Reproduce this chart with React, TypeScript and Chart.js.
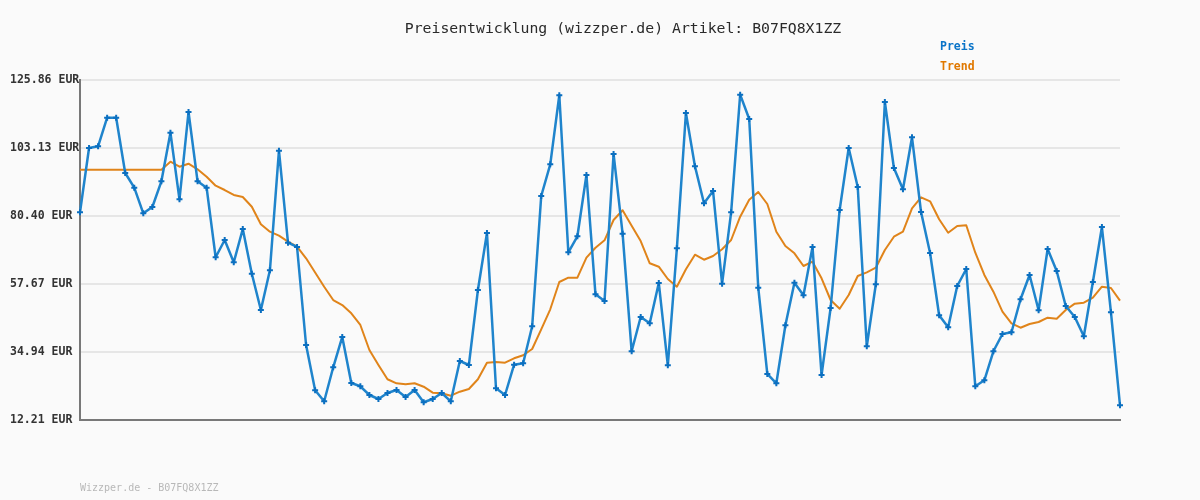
import React, { useEffect, useRef } from "react";
import { Chart, registerables } from "chart.js";

Chart.register(...registerables);

const TITLE = "Preisentwicklung (wizzper.de) Artikel: B07FQ8X1ZZ";
const FOOTER = "Wizzper.de - B07FQ8X1ZZ";
const SERIES_NAMES = ["Preis", "Trend"];
const Y_TICKS = [12.21, 34.94, 57.67, 80.4, 103.13, 125.86];

const PREIS = [
  81.64, 103.13, 103.7, 113.26, 113.26, 94.77, 89.86, 81.3, 83.41, 92.0,
  108.24, 85.98, 115.16, 92.0, 89.86, 66.6, 72.38, 64.92, 76.06, 61.11,
  48.98, 62.25, 102.23, 71.48, 70.04, 37.28, 22.14, 18.46, 29.83, 39.96,
  24.58, 23.48, 20.57, 19.23, 21.24, 22.24, 19.9, 22.24, 18.13, 19.23,
  21.24, 18.46, 31.93, 30.6, 55.67, 74.72, 22.81, 20.57, 30.7, 31.16,
  43.53, 87.09, 97.68, 120.75, 68.27, 73.62, 94.11, 54.23, 51.99, 101.13,
  74.48, 35.18, 46.64, 44.53, 58.01, 30.5, 69.6, 114.83, 97.01, 84.65,
  88.76, 57.77, 81.64, 120.95, 112.82, 56.43, 27.59, 24.48, 43.87, 58.11,
  53.89, 70.04, 27.25, 49.65, 82.41, 103.13, 90.09, 36.85, 57.57, 118.51,
  96.45, 89.33, 106.71, 81.74, 68.03, 47.21, 43.2, 57.0, 62.69, 23.48,
  25.48, 35.18, 40.96, 41.53, 52.56, 60.68, 48.88, 69.37, 62.02, 50.32,
  46.64, 40.19, 58.34, 76.72, 48.21, 17.13,
];

const TREND = [
  95.88, 95.88, 95.88, 95.88, 95.88, 95.88, 95.88, 95.88, 95.88, 95.88,
  98.55, 96.88, 97.88, 96.01, 93.54, 90.53, 89.09, 87.42, 86.75, 83.51,
  77.63, 75.15, 73.82, 71.81, 70.14, 66.26, 61.51, 56.77, 52.32, 50.65,
  47.88, 43.97, 35.61, 30.6, 25.82, 24.48, 24.15, 24.48, 23.34, 21.34,
  21.14, 20.33, 21.67, 22.57, 25.82, 31.37, 31.6, 31.37, 32.84, 33.84,
  35.94, 42.53, 49.21, 58.34, 59.78, 59.78, 66.46, 69.8, 72.28, 79.06,
  82.31, 77.16, 72.04, 64.59, 63.45, 59.34, 56.77, 62.58, 67.47, 65.79,
  67.03, 69.27, 72.38, 80.17, 85.85, 88.42, 84.41, 75.15, 70.37, 67.93,
  63.69, 65.13, 59.58, 52.32, 49.41, 53.99, 60.35, 61.58, 63.12, 69.04,
  73.48, 75.15, 82.97, 86.65, 85.31, 79.3, 74.82, 77.06, 77.29, 68.13,
  60.68, 55.1, 48.41, 44.53, 43.06, 44.3, 44.97, 46.41, 46.07, 48.98,
  51.09, 51.42, 53.09, 56.77, 56.33, 52.09,
];

const LABELS = PREIS.map((_, i) => String(i + 1));

const MONO = '"DejaVu Sans Mono", "Liberation Mono", monospace';

const decorPlugin = {
  id: "decor",
  beforeDraw(chart: any) {
    const ctx = chart.ctx;
    ctx.save();
    ctx.fillStyle = "#fafafa";
    ctx.fillRect(0, 0, chart.width, chart.height);
    ctx.restore();
  },
  afterDraw(chart: any) {
    const ctx = chart.ctx;
    ctx.save();
    ctx.font = `14.8px ${MONO}`;
    ctx.fillStyle = "#2a2a2a";
    ctx.textAlign = "center";
    ctx.textBaseline = "alphabetic";
    ctx.fillText(TITLE, 623, 33);

    ctx.font = `bold 11.5px ${MONO}`;
    ctx.textAlign = "left";
    ctx.textBaseline = "middle";
    ctx.fillStyle = "#0a74c8";
    ctx.fillText(SERIES_NAMES[0], 940, 47);
    ctx.fillStyle = "#e07800";
    ctx.fillText(SERIES_NAMES[1], 940, 67);

    ctx.font = `10px ${MONO}`;
    ctx.fillStyle = "#b8b8b8";
    ctx.textBaseline = "alphabetic";
    ctx.fillText(FOOTER, 80, 491);
    ctx.restore();
  },
};

export default function App() {
  const ref = useRef<HTMLCanvasElement | null>(null);

  useEffect(() => {
    if (!ref.current) return;
    const chart = new Chart(ref.current, {
      type: "line",
      data: {
        labels: LABELS,
        datasets: [
          {
            label: SERIES_NAMES[0],
            data: PREIS,
            borderColor: "#1f84cc",
            borderWidth: 2.5,
            borderJoinStyle: "round",
            tension: 0,
            pointStyle: "cross",
            pointRadius: 3,
            pointBorderWidth: 2,
            pointBorderColor: "#0b6fc0",
            pointBackgroundColor: "#0b6fc0",
          },
          {
            label: SERIES_NAMES[1],
            data: TREND,
            borderColor: "#e0841a",
            borderWidth: 2,
            borderJoinStyle: "round",
            tension: 0,
            pointRadius: 0,
          },
        ],
      },
      options: {
        animation: false,
        responsive: true,
        maintainAspectRatio: false,
        layout: { padding: { left: 10, right: 80, top: 80, bottom: 80 } },
        plugins: {
          legend: { display: false },
          title: { display: false },
          tooltip: { enabled: false },
        },
        scales: {
          x: {
            type: "category",
            offset: false,
            ticks: { display: false },
            grid: { display: false, drawTicks: false },
            border: { display: true, color: "#787878", width: 2 },
            afterFit(scale: any) {
              scale.height = 0;
            },
          },
          y: {
            min: Y_TICKS[0],
            max: Y_TICKS[Y_TICKS.length - 1],
            afterBuildTicks(scale: any) {
              scale.ticks = Y_TICKS.map((v) => ({ value: v }));
            },
            afterFit(scale: any) {
              scale.width = 70;
            },
            ticks: {
              autoSkip: false,
              crossAlign: "far",
              padding: 0,
              color: "#333333",
              font: { family: MONO, size: 11.5, weight: "bold" },
              callback: (v: any) => Number(v).toFixed(2) + " EUR",
            },
            grid: { color: "#e6e6e6", lineWidth: 2, drawTicks: false },
            border: { display: true, color: "#787878", width: 2 },
          },
        },
      },
      plugins: [decorPlugin],
    });
    return () => chart.destroy();
  }, []);

  return (
    <div
      style={{
        position: "fixed",
        left: 0,
        top: 0,
        width: 1200,
        height: 500,
        background: "#fafafa",
      }}
    >
      <canvas ref={ref} />
    </div>
  );
}
